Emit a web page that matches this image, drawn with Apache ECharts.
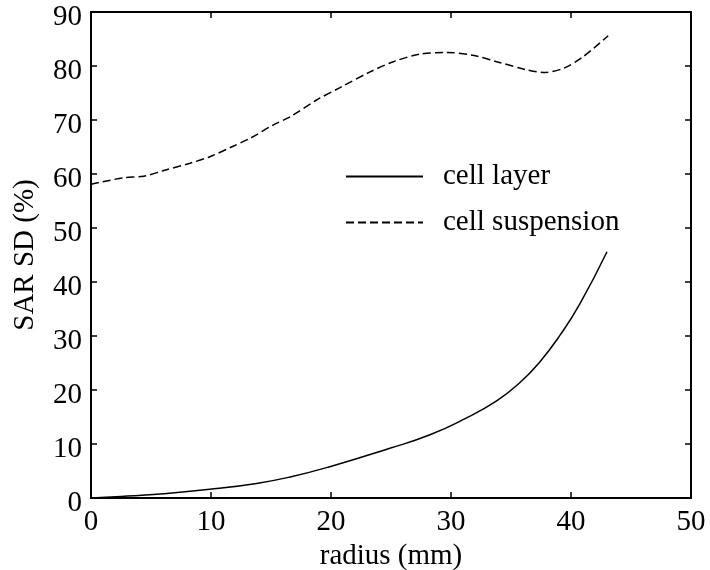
<!DOCTYPE html>
<html lang="en">
<head>
	<meta charset="UTF-8">
	<title>SAR SD</title>
	<script src="https://cdn.jsdelivr.net/npm/echarts@6/dist/echarts.min.js"></script>
	<style>body { margin: 0; background: #fff; }</style>
</head>
<body>
	<div id="chart" style="width: 710px; height: 570px;"></div>
	<script type="text/javascript">
		// values
		const layerRadius = [0, 2.5, 5.5, 9.9, 13.8, 16.6, 19.9, 24.9, 28.25, 31, 33.8, 35.75, 37.4, 39.1, 40.75, 43];
		const layerSD = [0, 0.3, 0.7, 1.6, 2.7, 3.9, 5.8, 9.2, 11.7, 14.5, 18.0, 21.4, 25.2, 30.2, 36.0, 45.6];

		const suspRadius = [0, 2.7, 4.4, 6, 8.25, 9.9, 11.8, 13.25, 15.2, 16.6, 18.8, 20.75, 23.25, 25.2, 27.4, 29.6, 31.8, 33.8, 36.3, 37.7, 39.4, 41, 43.1];
		const suspSD = [58.1, 59.3, 59.6, 60.6, 62.0, 63.2, 65.1, 66.6, 69.1, 70.6, 73.7, 76.0, 78.9, 80.8, 82.2, 82.5, 82.0, 80.8, 79.3, 78.8, 79.6, 81.7, 85.6];

		const seriesNames = ['cell layer', 'cell suspension'];

		const font = 'Liberation Serif';
		const pair = (xs, ys) => xs.map((x, i) => [x, ys[i]]);

		const chart = echarts.init(document.getElementById('chart'));

		const axisCommon = {
			axisLine: { show: true, onZero: false, lineStyle: { color: '#000', width: 2 } },
			axisTick: { show: true, inside: true, length: 6, lineStyle: { color: '#000', width: 1.5 } },
			splitLine: { show: false }
		};

		chart.setOption({
			animation: false,
			grid: { left: 91, right: 19, top: 12, bottom: 72, outerBoundsMode: 'none', containLabel: false },
			legend: {
				orient: 'vertical',
				left: 340,
				top: 157,
				itemWidth: 77,
				itemHeight: 10,
				itemGap: 17,
				data: seriesNames,
				itemStyle: { opacity: 0 },
				textStyle: { fontFamily: font, fontSize: 29, color: '#000', padding: [0, 0, 0, 15] }
			},
			xAxis: [
				Object.assign({
					type: 'value', position: 'bottom', min: 0, max: 50, interval: 10,
					name: 'radius (mm)', nameLocation: 'middle', nameGap: 42,
					nameTextStyle: { fontFamily: font, fontSize: 29, color: '#000' },
					axisLabel: { fontFamily: font, fontSize: 29, color: '#000', margin: 10 }
				}, axisCommon),
				Object.assign({
					type: 'value', position: 'top', min: 0, max: 50, interval: 10,
					axisLabel: { show: false }
				}, axisCommon)
			],
			yAxis: [
				Object.assign({
					type: 'value', position: 'left', min: 0, max: 90, interval: 10,
					name: 'SAR SD (%)', nameLocation: 'middle', nameGap: 51,
					nameTextStyle: { fontFamily: font, fontSize: 29, color: '#000' },
					axisLabel: { fontFamily: font, fontSize: 29, color: '#000', margin: 9, verticalAlign: 'top', lineHeight: 10 }
				}, axisCommon),
				Object.assign({
					type: 'value', position: 'right', min: 0, max: 90, interval: 10,
					axisLabel: { show: false }
				}, axisCommon)
			],
			series: [
				{
					name: seriesNames[0],
					type: 'line',
					symbol: 'none',
					smooth: 0.5,
					data: pair(layerRadius, layerSD),
					lineStyle: { color: '#000', width: 1.5, type: 'solid' },
					itemStyle: { color: '#000' }
				},
				{
					name: seriesNames[1],
					type: 'line',
					symbol: 'none',
					smooth: 0.3,
					data: pair(suspRadius, suspSD),
					lineStyle: { color: '#000', width: 1.5, type: [8, 4] },
					itemStyle: { color: '#000' }
				}
			]
		});
	</script>
</body>
</html>
